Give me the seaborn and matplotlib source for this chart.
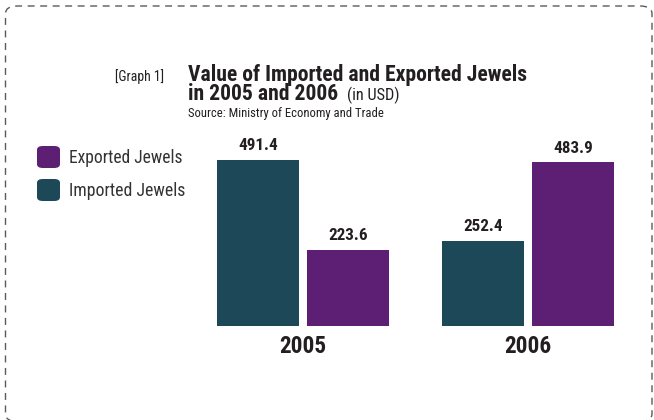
import matplotlib
matplotlib.use("Agg")
import matplotlib.pyplot as plt
from matplotlib.patches import FancyBboxPatch
import seaborn as sns
import pandas as pd

years = ["2005", "2006"]
series = ["Imported Jewels", "Exported Jewels"]
imported = [491.4, 252.4]
exported = [223.6, 483.9]

colors = {"Imported Jewels": "#1c4858", "Exported Jewels": "#5c1f74"}
text_dark = "#231f20"

df = pd.DataFrame({
    "Year": years * 2,
    "Series": [series[0]] * 2 + [series[1]] * 2,
    "Value": imported + exported,
})

sns.set_theme(style="white")
plt.rcParams["font.family"] = ["Roboto Condensed", "DejaVu Sans"]

W, H = 654, 420
fig = plt.figure(figsize=(W / 100, H / 100), dpi=100)
renderer = fig.canvas.get_renderer()


def px_text(x, y, s, width=None, size=10, **kw):
    """Place text at pixel coords (from top-left); optionally fit to a pixel width."""
    t = fig.text(x / W, 1 - y / H, s, fontsize=size, **kw)
    if width is not None:
        w = t.get_window_extent(renderer).width
        t.set_fontsize(size * width / w)
    return t


# dashed rounded frame around the whole graphic (bottom edge runs off the page)
frame = FancyBboxPatch((5.5 / W, -1.5 / H), (646.5 / W), (415.5 / H),
                       boxstyle="round,pad=0,rounding_size=0.018",
                       transform=fig.transFigure, fill=False,
                       edgecolor="#5a5a5a", linewidth=1.0,
                       linestyle=(0, (5, 4)), clip_on=False)
fig.patches.append(frame)

ax = fig.add_axes([213 / W, (H - 325.7) / H, 405 / W, 200.7 / H])
sns.barplot(data=df, x="Year", y="Value", hue="Series", order=years,
            hue_order=series, palette=colors, width=0.8, gap=0.09,
            saturation=1, ax=ax, legend=False, linewidth=0)
ax.set_xlim(-0.4, 1.4)
ax.set_ylim(0, 595)
ax.axis("off")

# value labels above bars
probe = fig.text(0, 0, "491.4", fontsize=10, fontweight="bold")
label_size = 10 * 40 / probe.get_window_extent(renderer).width
probe.remove()
for cont in ax.containers:
    ax.bar_label(cont, fmt="%.1f", padding=5, fontsize=label_size,
                 fontweight="bold", color=text_dark)

# year labels under each group
probe = fig.text(0, 0, "2005", fontsize=10, fontweight="bold")
year_size = 10 * 47 / probe.get_window_extent(renderer).width
probe.remove()
for i, yr in enumerate(years):
    ax.annotate(yr, xy=(i, 0), xycoords="data", xytext=(0, -27),
                textcoords="offset pixels", ha="center", va="baseline",
                fontsize=year_size, fontweight="bold", color=text_dark)

# titles
px_text(115, 81, "[Graph 1]", width=49, ha="left", va="baseline",
        color=text_dark)
px_text(188, 81.5, "Value of Imported and Exported Jewels", width=339,
        ha="left", va="baseline", fontweight="bold", color=text_dark)
px_text(188, 100, "in 2005 and 2006", width=150, ha="left",
        va="baseline", fontweight="bold", color=text_dark)
px_text(347, 100, "(in USD)", width=53, ha="left", va="baseline",
        color=text_dark)
px_text(188, 116.5, "Source: Ministry of Economy and Trade", width=194,
        ha="left", va="baseline", color=text_dark)

# legend
legend_items = [("Exported Jewels", 157), ("Imported Jewels", 190)]
for name, yc in legend_items:
    sq = FancyBboxPatch((37 / W, (H - yc - 11) / H), 23 / W, 22 / H,
                        boxstyle="round,pad=0,rounding_size=0.009",
                        transform=fig.transFigure,
                        facecolor=colors[name], edgecolor="none")
    fig.patches.append(sq)
    px_text(69, yc + 6, name, width=113 if name.startswith("E") else 115,
            ha="left", va="baseline", color="#333333")

fig.savefig("out.png", dpi=100)
